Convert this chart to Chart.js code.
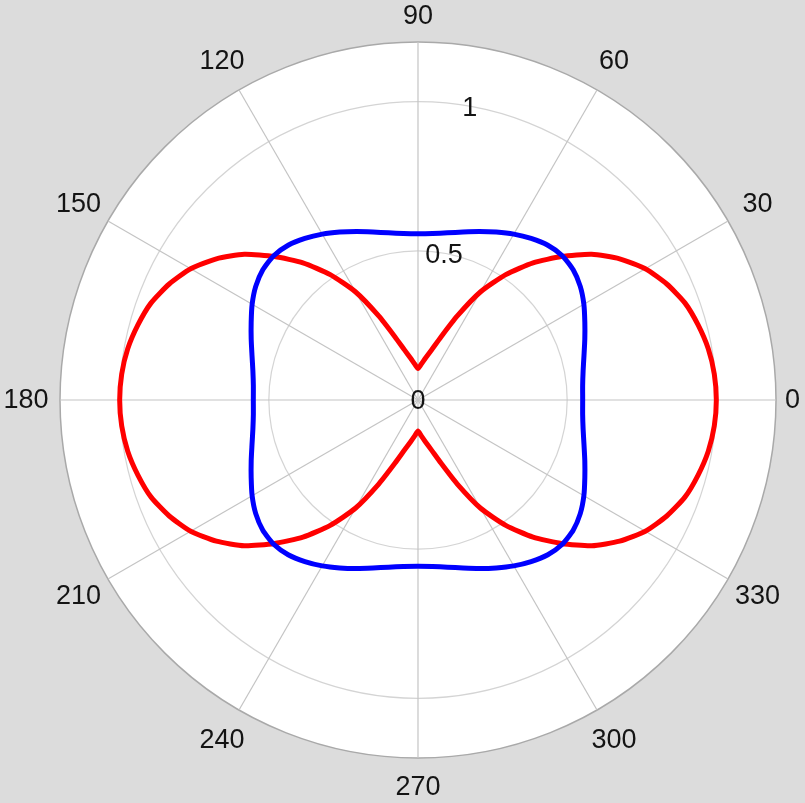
<!DOCTYPE html>
<html>
<head>
<meta charset="utf-8">
<script src="https://cdn.jsdelivr.net/npm/chart.js@4.4.1/dist/chart.umd.min.js"></script>
<style>
  html, body { margin: 0; padding: 0; background: #dcdcdc; }
  canvas { display: block; }
</style>
</head>
<body>
<canvas id="c" width="805" height="803"></canvas>
<script>
// Polar angles (degrees, counter-clockwise from east), 5° steps
const angles = [
  0, 5, 10, 15, 20, 25, 30, 35, 40, 45, 50, 55, 60, 65, 70, 75, 80, 85,
  90, 95, 100, 105, 110, 115, 120, 125, 130, 135, 140, 145, 150, 155, 160, 165, 170, 175,
  180, 185, 190, 195, 200, 205, 210, 215, 220, 225, 230, 235, 240, 245, 250, 255, 260, 265,
  270, 275, 280, 285, 290, 295, 300, 305, 310, 315, 320, 325, 330, 335, 340, 345, 350, 355
];
// Red series radius values
const redValues = [
  1.00, 0.997, 0.988, 0.972, 0.952, 0.92, 0.88, 0.825, 0.76, 0.68, 0.60, 0.513, 0.418, 0.31, 0.225, 0.173, 0.142, 0.12,
  0.106, 0.12, 0.142, 0.173, 0.225, 0.31, 0.418, 0.513, 0.60, 0.68, 0.76, 0.825, 0.88, 0.92, 0.952, 0.972, 0.988, 0.997,
  1.00, 0.997, 0.988, 0.972, 0.952, 0.92, 0.88, 0.825, 0.76, 0.68, 0.60, 0.513, 0.418, 0.31, 0.225, 0.173, 0.142, 0.12,
  0.104, 0.12, 0.142, 0.173, 0.225, 0.31, 0.418, 0.513, 0.60, 0.68, 0.76, 0.825, 0.88, 0.92, 0.952, 0.972, 0.988, 0.997
];
// Blue series radius values
const blueValues = [
  0.552, 0.554, 0.562, 0.576, 0.595, 0.617, 0.642, 0.664, 0.679, 0.684, 0.677, 0.661, 0.642, 0.621, 0.601, 0.583, 0.569, 0.56,
  0.557, 0.56, 0.569, 0.583, 0.601, 0.621, 0.642, 0.661, 0.677, 0.684, 0.679, 0.664, 0.642, 0.617, 0.595, 0.576, 0.562, 0.554,
  0.552, 0.554, 0.562, 0.576, 0.595, 0.617, 0.642, 0.664, 0.679, 0.684, 0.677, 0.661, 0.642, 0.621, 0.601, 0.583, 0.569, 0.56,
  0.557, 0.56, 0.569, 0.583, 0.601, 0.621, 0.642, 0.661, 0.677, 0.684, 0.679, 0.664, 0.642, 0.617, 0.595, 0.576, 0.562, 0.554
];
// Angular tick labels
const angleTickValues = [0, 30, 60, 90, 120, 150, 180, 210, 240, 270, 300, 330];
const angleTickLabels = ['0', '30', '60', '90', '120', '150', '180', '210', '240', '270', '300', '330'];
// Radial ticks
const radialTickValues = [0, 0.5, 1];
const radialTickLabels = ['0', '0.5', '1'];
const radialMax = 1.2;

// Chart.js radar goes clockwise from startAngle; reorder so index i is at angle -i*5°
const n = angles.length;
const order = angles.map((_, i) => (n - i) % n);
const chartLabels = order.map(k => angles[k]);
const redData = order.map(k => redValues[k]);
const blueData = order.map(k => blueValues[k]);

const textPlugin = {
  id: 'polarText',
  afterDraw(chart) {
    const s = chart.scales.r;
    const ctx = chart.ctx;
    ctx.save();
    ctx.font = '27px "Liberation Sans", Arial, Helvetica, sans-serif';
    ctx.fillStyle = '#141414';
    ctx.textAlign = 'center';
    ctx.textBaseline = 'middle';
    const R = s.drawingArea * 1.095;
    angleTickValues.forEach((a, k) => {
      const t = a * Math.PI / 180;
      const lab = angleTickLabels[k];
      const w = ctx.measureText(lab).width;
      let x = s.xCenter + R * Math.cos(t);
      let y = s.yCenter - R * Math.sin(t);
      x = Math.min(Math.max(x, w / 2 + 3), chart.width - w / 2 - 5);
      y = Math.min(Math.max(y, 16), chart.height - 16);
      ctx.fillText(lab, x, y + 1);
    });
    const ta = 80 * Math.PI / 180;
    radialTickValues.forEach((v, k) => {
      const d = s.getDistanceFromCenterForValue(v);
      const x = s.xCenter + d * Math.cos(ta);
      const y = s.yCenter - d * Math.sin(ta);
      ctx.fillText(radialTickLabels[k], x, y + 2);
    });
    ctx.restore();
  }
};

new Chart(document.getElementById('c'), {
  type: 'radar',
  data: {
    labels: chartLabels,
    datasets: [
      {
        label: 'blue',
        data: blueData,
        borderColor: '#0000ff',
        borderWidth: 5,
        backgroundColor: 'rgba(0,0,0,0)',
        fill: false,
        pointRadius: 0,
        tension: 0.2,
        order: 0
      },
      {
        label: 'red',
        data: redData,
        borderColor: '#ff0000',
        borderWidth: 5,
        backgroundColor: 'rgba(0,0,0,0)',
        fill: false,
        pointRadius: 0,
        tension: 0.2,
        order: 1
      }
    ]
  },
  options: {
    responsive: false,
    animation: false,
    layout: { padding: { left: 60, right: 29, top: 42, bottom: 45 } },
    plugins: { legend: { display: false }, tooltip: { enabled: false }, title: { display: false } },
    scales: {
      r: {
        min: 0,
        max: radialMax,
        startAngle: 90,
        backgroundColor: '#ffffff',
        afterBuildTicks: (scale) => {
          scale.ticks = radialTickValues.concat([radialMax]).map(v => ({ value: v }));
        },
        ticks: { display: false },
        pointLabels: { display: false },
        grid: {
          circular: true,
          color: (ctx) => ctx.index === 3 ? '#a9a9a9' : '#d4d4d4',
          lineWidth: (ctx) => ctx.index === 3 ? 1.5 : 1.2
        },
        angleLines: {
          display: true,
          color: (ctx) => (chartLabels[ctx.index] % 30 === 0) ? '#c4c4c4' : 'rgba(0,0,0,0)',
          lineWidth: (ctx) => (chartLabels[ctx.index] % 30 === 0) ? 1.2 : 0
        }
      }
    }
  },
  plugins: [textPlugin]
});
</script>
</body>
</html>
